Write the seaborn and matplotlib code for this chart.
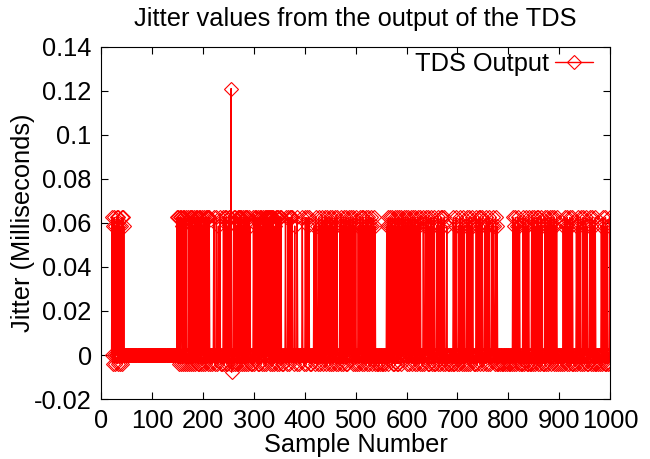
import numpy as np
import pandas as pd
import matplotlib
matplotlib.use('Agg')
import matplotlib.pyplot as plt
import seaborn as sns

# jitter levels (ms) that the TDS output takes
level_value = {'A': 0.0625, 'B': 0.0586, '0': 0.0, 'm': -0.0039,
               'S': 0.1211, 'M': -0.0078}

first_sample = 20

# one code per sample
codes_020_148 = [
    "0AmB0AmB0", "00", "AmA0Bm", "0", "B0AmA0B",   # 20-44 first burst
    "0" * 104,                                     # 45-148 flat at zero
]
codes_149_400 = [
    "A0Am0A0mAB0mA0A0mA0m", "00", "Am0A0mA0AmB0A0mA0Am", "0m",
    "A0Am0A0B", "m0", "A0mA0A0mA0A", "0m000m00", "A0m00A0m0B00A0m",
    "00m0", "A0mA0A0mB0A0mA", "0", "S", "M", "0m0",
    "A0mA0B0mA0A0mA0AmB0A0mA0Am0A0mA0B0m", "00m0", "A0mA0A0BmA0mA", "0",
    "A0mB0A0mA0AmA0A", "0", "A0mA0A", "m", "A0A0mB0A0mA0Am0A0A",
    "0m00m000", "A0", "m00", "A0mA0A0", "0A00m0B000m", "A0",
    "00m00000A00m00",
]
codes_401_700 = [
    "A0mA0B0A0", "m00m0000", "B0mA0B0", "0m", "A0Bm0B", "0",
    "A0mB0A0mB0A", "0", "B0mA0mB", "0", "A0mB0A0B", "m", "A0", "0m00",
    "B0A", "m", "B0mA0B0mA0mB", "0", "A0B0A", "0", "B0mA0B0mA", "0m00",
    "B0mA0B0mA0A0mB0A0mB", "0", "A0mB0A0mB0A0mB0",
    "0m00m000m00m00m000m00", "B0mA0B", "0", "A0B0A", "m", "B0mA0B0mA0mA",
    "0", "B0mA0B0A0B", "0", "A0mB0A0mB0A0BmA", "0", "B0mA0B0mA0B0mA0",
    "0m00A0m0", "B0A0B", "m", "A0mB0A0mB0mA", "0m00", "B0mA0B0mA0A0mB0A",
    "0m00", "B0", "m00m000m00m", "A0mB0A", "0m00",
]
codes_702_1000 = [
    "B0mA0B0mA0mB", "00m0", "A0mB0A0mB0A0B", "0m00m0", "A0mB0A0mA0B0A",
    "0m00", "B0mA0B0mA", "0m00", "B0A0B", "0m0", "A0mB",
    "0m00m000m00m000m00m000m00m00m0", "A0mB0A0mB0A0mB", "0m00m0",
    "A0mB0A0mB0mA", "0m00m", "A0mB0A0mB0A0mA0B0mA0B0", "m00m",
    "A0mB0A0mB0A0mA0B0mA0B0mA0", "0m00m000m00", "B0mA0B0mA", "0",
    "B0mA0B0mA", "0m00m00", "B0mA0B0mA", "0m00", "A0mB0A0mB", "0m00",
    "A0mB0A0mB0mA", "0m00m000m00", "B0mA0B0mA0mB", "0m00", "Am",
]

codes = "".join(codes_020_148 + codes_149_400 + codes_401_700 + codes_702_1000)
df = pd.DataFrame({
    "sample": np.arange(first_sample, first_sample + len(codes)),
    "jitter": [level_value[c] for c in codes],
})

x_ticks = list(range(0, 1001, 100))
y_ticks = [-0.02, 0, 0.02, 0.04, 0.06, 0.08, 0.1, 0.12, 0.14]
y_labels = ["-0.02", "0", "0.02", "0.04", "0.06", "0.08", "0.1", "0.12", "0.14"]

sns.set_style("ticks")
plt.rcParams['font.family'] = ['Liberation Sans Narrow', 'Liberation Sans', 'DejaVu Sans']
plt.rcParams['text.color'] = 'black'
plt.rcParams['axes.labelcolor'] = 'black'

fs = 18.3

fig = plt.figure(figsize=(6.5, 4.59), dpi=100)
ax = fig.add_axes([0.156, 0.1307, 0.7825, 0.767])

sns.lineplot(data=df, x="sample", y="jitter", ax=ax, estimator=None, sort=False,
             color="#ff0000", linewidth=1.0, marker="D", markersize=7,
             markerfacecolor="none", markeredgecolor="#ff0000",
             markeredgewidth=0.8, label="TDS Output")

ax.set_xlim(0, 1000)
ax.set_ylim(-0.02, 0.14)
ax.set_xticks(x_ticks)
ax.set_yticks(y_ticks)
ax.set_yticklabels(y_labels)
ax.tick_params(direction="in", top=True, right=True, length=5, width=0.8,
               labelsize=fs, pad=7, colors="black")
for s in ax.spines.values():
    s.set_linewidth(0.8)
    s.set_color("black")

ax.set_title("Jitter values from the output of the TDS", fontsize=fs, pad=15,
             color="black")
ax.set_xlabel("Sample Number", fontsize=fs, labelpad=0)
ax.set_ylabel("Jitter (Milliseconds)", fontsize=fs, labelpad=-1)

ax.legend(loc="upper right", bbox_to_anchor=(0.967, 0.986), frameon=False,
          markerfirst=False, handlelength=1.5, handletextpad=0.25,
          borderpad=0, borderaxespad=0, fontsize=fs, numpoints=1)

fig.savefig("out.png", dpi=100)
